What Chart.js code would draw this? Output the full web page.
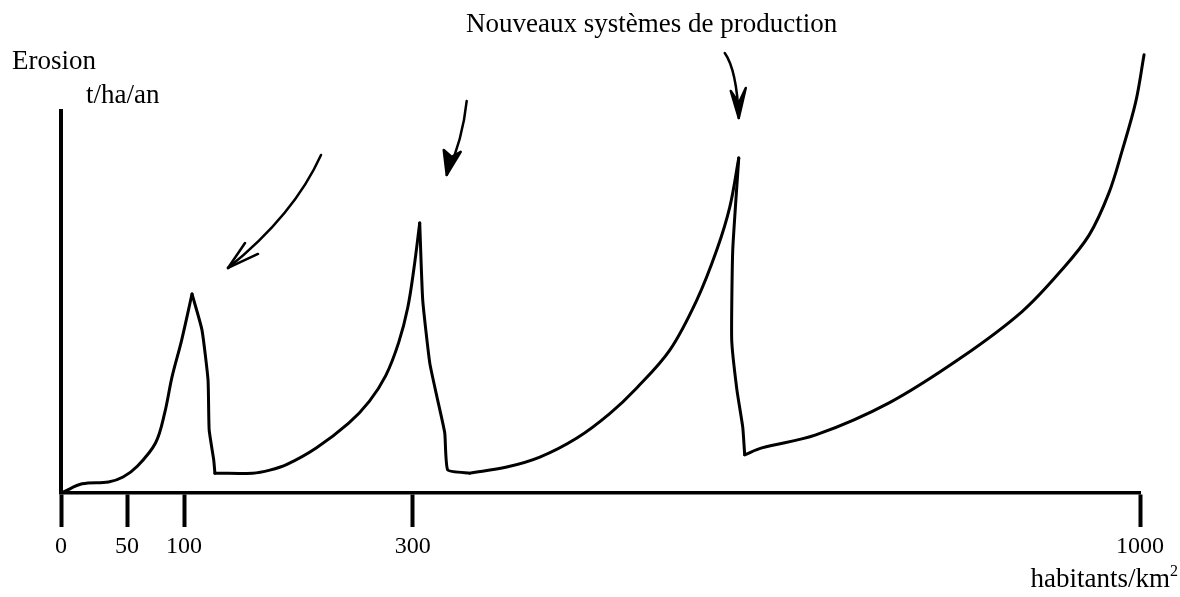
<!DOCTYPE html>
<html>
<head>
<meta charset="utf-8">
<script src="https://cdn.jsdelivr.net/npm/chart.js@4/dist/chart.umd.min.js"></script>
<style>
html,body{margin:0;padding:0;background:#fff;}
#wrap{width:1180px;height:597px;position:relative;}
</style>
</head>
<body>
<div id="wrap"><canvas id="c"></canvas></div>
<script>
// ---- Data ----
// population density, habitants/km²
const popDensity = [2, 16, 36, 47, 59, 75, 83, 89.5, 98, 107, 115.7, 121, 122, 126, 127,
  160, 175, 190, 215.6, 244, 262, 276.5, 287.8, 295.6, 301, 306.7, 309.6, 316.4, 324, 330.8, 333.7,
  354.9, 390.5, 422.3, 458, 489.6, 515.6, 547.4, 573.4, 592.6, 605.2, 613.8, 608, 607, 612, 617.6, 619.5,
  636, 688, 758.5, 828.7, 886.5, 925, 951, 970, 982.7, 996, 1003.9];
// erosion, t/ha/an (relative units, axis top = 100)
const erosion = [0.3, 2.4, 2.9, 4.2, 7.0, 13.1, 20.9, 30.4, 40.1, 52.1, 42.7, 29.6, 16.5, 8.6, 5.2,
  5.2, 6.0, 7.5, 11.8, 18.3, 24.0, 30.8, 39.5, 48.5, 58.5, 70.7, 50.5, 34, 24.3, 15.7, 6.0,
  5.2, 6.8, 9.4, 14.4, 20.8, 27.5, 37.4, 50.5, 63.6, 74.9, 87.7, 63.6, 40.1, 27, 17.3, 10,
  11.8, 15.2, 23.6, 35.6, 47.5, 58.5, 67.5, 78.5, 89.5, 102.5, 114.7];
const tickValues = [0, 50, 100, 300, 1000];
const tickLabels = ['0', '50', '100', '300', '1000'];
const yTitle = ['Erosion', 't/ha/an'];
const xTitle = 'habitants/km';
const xTitleSup = '2';
const annotationText = 'Nouveaux systèmes de production';

// ---- Hand-drawn (non-linear) x axis: tick values placed at the drawn fractions ----
const axisFractions = [0, 0.0612, 0.114, 0.326, 1];
class PiecewiseScale extends Chart.LinearScale {
  _toDecimal(v) {
    const b = tickValues, f = axisFractions;
    let i = 0;
    while (i < b.length - 2 && v > b[i + 1]) i++;
    return f[i] + (v - b[i]) / (b[i + 1] - b[i]) * (f[i + 1] - f[i]);
  }
  getPixelForValue(v) { return this.getPixelForDecimal(this._toDecimal(v)); }
  getValueForPixel(p) {
    const d = this.getDecimalForPixel(p), b = tickValues, f = axisFractions;
    let i = 0;
    while (i < f.length - 2 && d > f[i + 1]) i++;
    return b[i] + (d - f[i]) / (f[i + 1] - f[i]) * (b[i + 1] - b[i]);
  }
  buildTicks() { return tickValues.map(v => ({ value: v })); }
}
PiecewiseScale.id = 'piecewise';
PiecewiseScale.defaults = Chart.LinearScale.defaults;
Chart.register(PiecewiseScale);

// peaks (local maxima) and the bottoms of the drops that follow them
const peaks = [];
for (let i = 1; i < erosion.length - 1; i++) {
  if (erosion[i] > erosion[i - 1] && erosion[i] > erosion[i + 1]) peaks.push(i);
}
const cuts = [0];
peaks.forEach(p => {
  cuts.push(p);
  let j = p + 1;
  while (j < erosion.length - 1 && erosion[j + 1] < erosion[j]) j++;
  cuts.push(j);
});
cuts.push(erosion.length - 1);

// one line piece per branch: smooth rises, straight drops
const datasets = [];
for (let k = 0; k < cuts.length - 1; k++) {
  const pts = [];
  for (let i = cuts[k]; i <= cuts[k + 1]; i++) pts.push({ x: popDensity[i], y: erosion[i] });
  const rising = k % 2 === 0;
  datasets.push({
    label: 'Erosion',
    data: pts,
    borderColor: '#000',
    borderWidth: 3,
    pointRadius: 0,
    fill: false,
    clip: false,
    borderCapStyle: 'round',
    borderJoinStyle: 'round',
    tension: rising ? 0.35 : 0.15
  });
}

// arrows pointing at each peak (offsets in px from the peak)
const arrowShapes = [
  { start: [129, -139], ctrl: [102, -79], tip: [36, -26], head: [[66, -40], [53, -51]], filled: false },
  { start: [47, -122], ctrl: [43, -83], tip: [27, -48], head: [[24, -73], [32, -66], [41, -71]], filled: true },
  { start: [-14, -105], ctrl: [-2, -88], tip: [0, -40], head: [[-8, -67], [0, -55], [7, -70]], filled: true }
];

const SERIF = '"Liberation Serif", "Times New Roman", serif';

const decorPlugin = {
  id: 'decor',
  afterDatasetsDraw(chart) {
    const ctx = chart.ctx;
    const xs = chart.scales.x, ys = chart.scales.y;
    ctx.save();
    ctx.strokeStyle = '#000';
    ctx.fillStyle = '#000';
    ctx.lineWidth = 2.5;
    ctx.lineCap = 'round';
    ctx.lineJoin = 'round';
    peaks.forEach((pi, k) => {
      const a = arrowShapes[k];
      if (!a) return;
      const px = xs.getPixelForValue(popDensity[pi]), py = ys.getPixelForValue(erosion[pi]);
      const P = o => [px + o[0], py + o[1]];
      const s = P(a.start), c = P(a.ctrl), t = P(a.tip);
      ctx.beginPath();
      ctx.moveTo(s[0], s[1]);
      ctx.quadraticCurveTo(c[0], c[1], t[0], t[1]);
      ctx.stroke();
      if (a.filled) {
        ctx.beginPath();
        ctx.moveTo(t[0], t[1]);
        a.head.forEach(h => { const q = P(h); ctx.lineTo(q[0], q[1]); });
        ctx.closePath();
        ctx.fill();
        ctx.stroke();
      } else {
        a.head.forEach(h => {
          const q = P(h);
          ctx.beginPath();
          ctx.moveTo(t[0], t[1]);
          ctx.lineTo(q[0], q[1]);
          ctx.stroke();
        });
      }
    });
    ctx.restore();
  },
  afterDraw(chart) {
    const ctx = chart.ctx;
    const ca = chart.chartArea;
    ctx.save();
    ctx.fillStyle = '#000';
    ctx.textBaseline = 'alphabetic';
    ctx.font = '27px ' + SERIF;
    ctx.textAlign = 'left';
    ctx.fillText(yTitle[0], ca.left - 49, ca.top - 42);
    ctx.fillText(yTitle[1], ca.left + 25, ca.top - 8);
    ctx.fillText(annotationText, ca.left + 405, 32);
    // x title, right aligned with superscript
    ctx.font = '16px ' + SERIF;
    const supW = ctx.measureText(xTitleSup).width;
    ctx.font = '27px ' + SERIF;
    const xr = ca.right + 38;
    const baseY = 587;
    ctx.textAlign = 'right';
    ctx.fillText(xTitle, xr - supW, baseY);
    ctx.font = '16px ' + SERIF;
    ctx.textAlign = 'left';
    ctx.fillText(xTitleSup, xr - supW, baseY - 11);
    ctx.restore();
  }
};

new Chart(document.getElementById('c'), {
  type: 'line',
  data: { datasets: datasets },
  options: {
    responsive: true,
    maintainAspectRatio: false,
    animation: false,
    devicePixelRatio: 1,
    layout: { padding: { left: 61, right: 40, top: 111, bottom: 0 } },
    plugins: { legend: { display: false }, title: { display: false }, tooltip: { enabled: false } },
    scales: {
      x: {
        type: 'piecewise',
        min: 0,
        max: 1000,
        afterFit(s) { s.height = 104; },
        border: { display: true, color: '#000', width: 3.5 },
        grid: { display: true, drawOnChartArea: false, drawTicks: true, tickLength: 34, tickWidth: 4, tickColor: '#000', color: '#000' },
        ticks: {
          autoSkip: false, maxRotation: 0, padding: 5, color: '#000',
          font: { family: SERIF, size: 24 },
          callback: (v, i) => tickLabels[i]
        }
      },
      y: {
        type: 'linear',
        min: 0,
        max: 100,
        afterFit(s) { s.width = 0; },
        border: { display: true, color: '#000', width: 4 },
        grid: { display: false },
        ticks: { display: false }
      }
    }
  },
  plugins: [decorPlugin]
});
</script>
</body>
</html>
